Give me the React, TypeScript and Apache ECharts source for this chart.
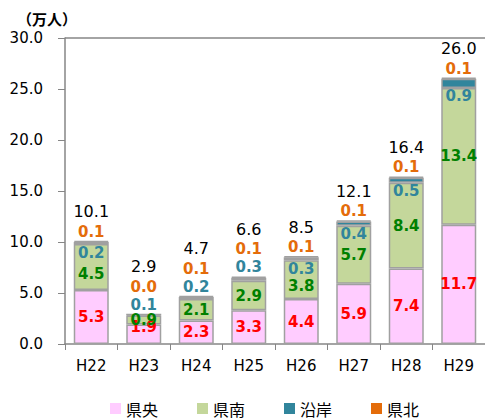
import React, { useEffect, useRef } from "react";
import * as echarts from "echarts";

const categories = ["H22", "H23", "H24", "H25", "H26", "H27", "H28", "H29"];
const kenou = [5.3, 1.9, 2.3, 3.3, 4.4, 5.9, 7.4, 11.7];
const kennan = [4.5, 0.9, 2.1, 2.9, 3.8, 5.7, 8.4, 13.4];
const engan = [0.2, 0.1, 0.2, 0.3, 0.3, 0.4, 0.5, 0.9];
const kenhoku = [0.1, 0.0, 0.1, 0.1, 0.1, 0.1, 0.1, 0.1];
const totals = [10.1, 2.9, 4.7, 6.6, 8.5, 12.1, 16.4, 26.0];
// where the 沿岸 label sits: below its segment, or above the bar
const enganLabelAbove = [false, true, true, true, false, false, false, false];
// small manual label nudges (pixels, down positive), as in the original
const kenouLabelShift = [0, -7, 0, 0, 0, 0, 0, 0];
const kennanLabelShift = [7, 0, 0, 0, 6, 0, 0, 0];
const yTicks = [0, 5, 10, 15, 20, 25, 30];
const unitText = "（万人）";

const NUM = "DejaVu Sans";
const JP = "'Noto Sans CJK JP', sans-serif";

export default function App() {
  const ref = useRef<HTMLDivElement>(null);
  useEffect(() => {
    const chart = echarts.init(ref.current!, null, { renderer: "svg" });
    const border = { borderColor: "#a0a0a0", borderWidth: 1.5 };
    const fmt = (p: any) => Number(p.value).toFixed(1);
    const inLabel = (color: string) => ({
      show: true,
      position: "inside",
      color,
      fontFamily: NUM,
      fontWeight: "bold",
      fontSize: 15,
      formatter: fmt,
    });
    const option: any = {
      animation: false,
      backgroundColor: "#ffffff",
      grid: { left: 65, top: 38, width: 424, height: 306 },
      title: {
        text: unitText,
        left: 17,
        top: 9,
        padding: 0,
        textStyle: {
          fontFamily: JP,
          fontSize: 15,
          fontWeight: "bold",
          color: "#000",
          lineHeight: 18,
        },
      },
      legend: {
        left: 110,
        top: 400,
        itemWidth: 11,
        itemHeight: 11,
        itemGap: 39,
        icon: "rect",
        padding: 0,
        itemStyle: { borderWidth: 0 },
        textStyle: {
          fontFamily: JP,
          fontSize: 16,
          lineHeight: 17,
          color: "#000",
        },
        data: ["県央", "県南", "沿岸", "県北"],
      },
      xAxis: {
        type: "category",
        data: categories,
        axisLine: { lineStyle: { color: "#868686", width: 1.5 } },
        axisTick: { show: true, length: 6, lineStyle: { color: "#868686" } },
        axisLabel: { color: "#000", fontFamily: NUM, fontSize: 15, margin: 14 },
      },
      yAxis: {
        type: "value",
        min: yTicks[0],
        max: yTicks[yTicks.length - 1],
        interval: 5,
        axisLine: { show: true, lineStyle: { color: "#868686", width: 1.5 } },
        axisTick: { show: true, length: 7, lineStyle: { color: "#868686" } },
        axisLabel: {
          color: "#000",
          fontFamily: NUM,
          fontSize: 15,
          margin: 22,
          formatter: (v: number) => v.toFixed(1),
        },
        splitLine: {
          show: true,
          lineStyle: {
            color: yTicks.map((_, i) => (i === yTicks.length - 1 ? "#868686" : "rgba(0,0,0,0)")),
            width: 1.5,
          },
        },
      },
      series: [
        {
          name: "県央",
          type: "bar",
          stack: "a",
          barWidth: 35,
          data: kenou.map((v, i) => ({ value: v, label: { offset: [0, kenouLabelShift[i]] } })),
          itemStyle: { color: "#FFCCFF", ...border },
          label: inLabel("#FF0000"),
        },
        {
          name: "県南",
          type: "bar",
          stack: "a",
          data: kennan.map((v, i) => ({ value: v, label: { offset: [0, kennanLabelShift[i]] } })),
          itemStyle: { color: "#C4D79B", ...border },
          label: inLabel("#008000"),
        },
        {
          name: "沿岸",
          type: "bar",
          stack: "a",
          data: engan.map((v, i) => ({
            value: v,
            label: enganLabelAbove[i]
              ? { show: false }
              : {
                  show: true,
                  position: "bottom",
                  distance: 1,
                  color: "#31859C",
                  fontFamily: NUM,
                  fontWeight: "bold",
                  fontSize: 15,
                  formatter: fmt,
                },
          })),
          itemStyle: { color: "#31859C", ...border },
        },
        {
          name: "県北",
          type: "bar",
          stack: "a",
          data: kenhoku,
          itemStyle: { color: "#E46C0A", ...border },
          label: {
            show: true,
            position: "top",
            distance: 0,
            formatter: (p: any) => {
              const i = p.dataIndex;
              let s = `{t|${totals[i].toFixed(1)}}\n{n|${kenhoku[i].toFixed(1)}}`;
              if (enganLabelAbove[i]) s += `\n{c|${engan[i].toFixed(1)}}`;
              return s;
            },
            rich: {
              t: { fontFamily: NUM, fontSize: 16, color: "#000", lineHeight: 22 },
              n: { fontFamily: NUM, fontSize: 15, fontWeight: "bold", color: "#E46C0A", lineHeight: 18 },
              c: { fontFamily: NUM, fontSize: 15, fontWeight: "bold", color: "#31859C", lineHeight: 18 },
            },
          },
        },
      ],
    };
    chart.setOption(option);
    return () => chart.dispose();
  }, []);
  return (
    <div
      ref={ref}
      style={{ position: "fixed", left: 0, top: 0, width: 485, height: 419 }}
    />
  );
}
